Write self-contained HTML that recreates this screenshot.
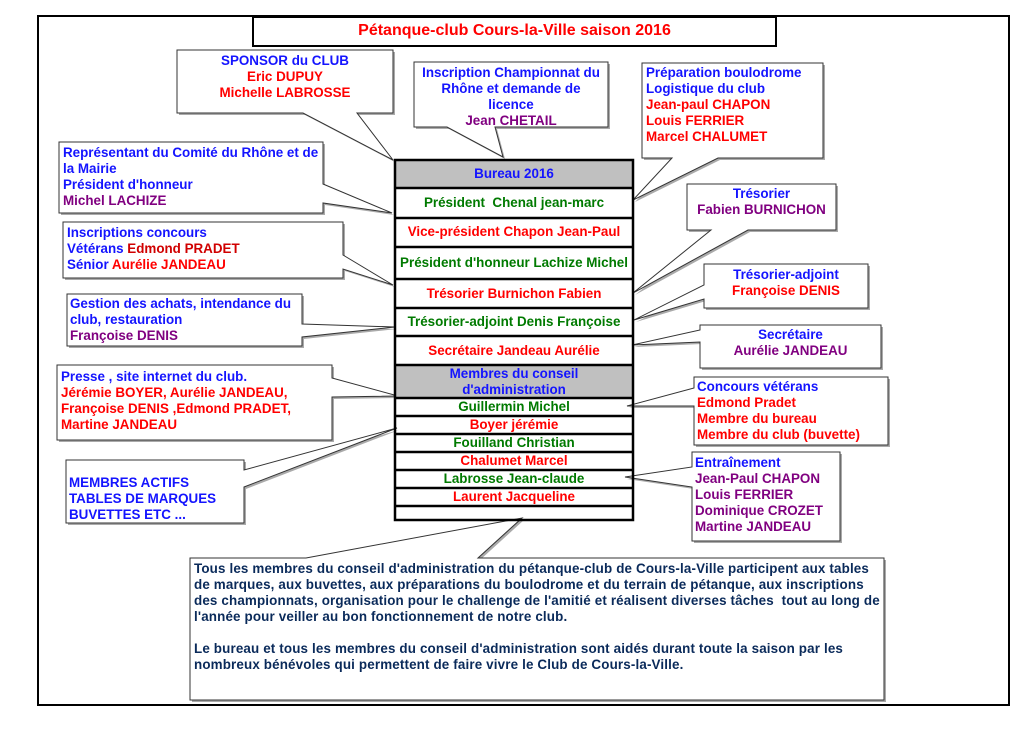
<!DOCTYPE html>
<html><head><meta charset="utf-8"><style>
body{margin:0;width:1034px;height:729px;background:#fff;position:relative;overflow:hidden;font-family:"Liberation Sans",Arial,sans-serif;font-weight:bold;font-size:13.4px}
.t{position:absolute;line-height:16px;white-space:nowrap}
.c{text-align:center}
.b{color:#1414ff}.r{color:#ff0000}.p{color:#800080}.g{color:#007a00}.n{color:#0a2a5a}
.row{position:absolute;left:395px;width:238px;text-align:center;white-space:nowrap;line-height:16px}
</style></head><body>
<svg width="1034" height="729" style="position:absolute;left:0;top:0">
<rect x="38" y="16" width="971" height="689" fill="none" stroke="#000" stroke-width="2"/>
<rect x="253" y="17" width="523" height="29" fill="#fff" stroke="#000" stroke-width="2"/>
<g transform="translate(2,2)" fill="#aaa">
<path d="M177 50 H393 V113 H357 L393 160 L303 113 H177 Z"/>
<path d="M414 62 H608 V127 H495 L503 157 L447 127 H414 Z"/>
<path d="M642 63 H823 V158 H718 L633 200 L672 158 H642 Z"/>
<path d="M59 142 H323 V184 L392 213 L323 203 V213 H59 Z"/>
<path d="M63 222 H343 V255 L393 285 L343 269 V278 H63 Z"/>
<path d="M67 294 H302 V324 L395 327 L302 337 V346 H67 Z"/>
<path d="M57 365 H332 V378 L398 396 L332 397 V440 H57 Z"/>
<path d="M66 460 H244 V470 L397 428 L244 487 V523 H66 Z"/>
<path d="M687 184 H836 V230 H748 L633 293 L711 230 H687 Z"/>
<path d="M704 264 H868 V308 H704 V299 L634 320 L704 285 Z"/>
<path d="M700 325 H881 V368 H700 V342 L632 345 L700 330 Z"/>
<path d="M694 377 H888 V445 H694 V406 L627 406 L694 388 Z"/>
<path d="M692 452 H840 V541 H692 V487 L625 477 L692 467 Z"/>
<path d="M190 558 H306 L522 518 L478 558 H884 V700 H190 Z"/>
</g>
<g fill="#fff" stroke="#333" stroke-width="1">
<path d="M177 50 H393 V113 H357 L393 160 L303 113 H177 Z"/>
<path d="M414 62 H608 V127 H495 L503 157 L447 127 H414 Z"/>
<path d="M642 63 H823 V158 H718 L633 200 L672 158 H642 Z"/>
<path d="M59 142 H323 V184 L392 213 L323 203 V213 H59 Z"/>
<path d="M63 222 H343 V255 L393 285 L343 269 V278 H63 Z"/>
<path d="M67 294 H302 V324 L395 327 L302 337 V346 H67 Z"/>
<path d="M57 365 H332 V378 L398 396 L332 397 V440 H57 Z"/>
<path d="M66 460 H244 V470 L397 428 L244 487 V523 H66 Z"/>
<path d="M687 184 H836 V230 H748 L633 293 L711 230 H687 Z"/>
<path d="M704 264 H868 V308 H704 V299 L634 320 L704 285 Z"/>
<path d="M700 325 H881 V368 H700 V342 L632 345 L700 330 Z"/>
<path d="M694 377 H888 V445 H694 V406 L627 406 L694 388 Z"/>
<path d="M692 452 H840 V541 H692 V487 L625 477 L692 467 Z"/>
<path d="M190 558 H306 L522 518 L478 558 H884 V700 H190 Z"/>
</g>
<rect x="395" y="160" width="238" height="28" fill="#c0c0c0"/>
<rect x="395" y="365" width="238" height="33" fill="#c0c0c0"/>
<rect x="395" y="160" width="238" height="360" fill="none" stroke="#000" stroke-width="2.5"/>
<g stroke="#000" stroke-width="2.5">
<line x1="395" x2="633" y1="188" y2="188"/><line x1="395" x2="633" y1="218" y2="218"/>
<line x1="395" x2="633" y1="247" y2="247"/><line x1="395" x2="633" y1="279" y2="279"/>
<line x1="395" x2="633" y1="308" y2="308"/><line x1="395" x2="633" y1="336" y2="336"/>
<line x1="395" x2="633" y1="365" y2="365"/><line x1="395" x2="633" y1="398" y2="398"/>
<line x1="395" x2="633" y1="416" y2="416"/><line x1="395" x2="633" y1="434" y2="434"/>
<line x1="395" x2="633" y1="452" y2="452"/><line x1="395" x2="633" y1="470" y2="470"/>
<line x1="395" x2="633" y1="488" y2="488"/><line x1="395" x2="633" y1="506" y2="506"/>
</g>
</svg>
<div class="t c r" style="left:253px;width:523px;top:23px;font-size:16px">Pétanque-club Cours-la-Ville saison 2016</div>

<div class="t c" style="left:177px;width:216px;top:53px"><span class="b">SPONSOR du CLUB</span><br><span class="r">Eric DUPUY</span><br><span class="r">Michelle LABROSSE</span></div>
<div class="t c" style="left:414px;width:194px;top:65px"><span class="b">Inscription Championnat du<br>Rhône et demande de<br>licence</span><br><span class="p">Jean CHETAIL</span></div>
<div class="t" style="left:646px;top:65px"><span class="b">Préparation boulodrome<br>Logistique du club</span><br><span class="r">Jean-paul CHAPON<br>Louis FERRIER<br>Marcel CHALUMET</span></div>
<div class="t" style="left:63px;top:145px"><span class="b">Représentant du Comité du Rhône et de<br>la Mairie<br>Président d'honneur</span><br><span class="p">Michel LACHIZE</span></div>
<div class="t" style="left:67px;top:225px"><span class="b">Inscriptions concours<br>Vétérans </span><span style="color:#d00000">Edmond PRADET</span><br><span class="b">Sénior </span><span class="r">Aurélie JANDEAU</span></div>
<div class="t" style="left:70px;top:296px"><span class="b">Gestion des achats, intendance du<br>club, restauration</span><br><span class="p">Françoise DENIS</span></div>
<div class="t" style="left:61px;top:369px"><span class="b">Presse , site internet du club.</span><br><span class="r">Jérémie BOYER, Aurélie JANDEAU,<br>Françoise DENIS ,Edmond PRADET,<br>Martine JANDEAU</span></div>
<div class="t b" style="left:69px;top:475px">MEMBRES ACTIFS<br>TABLES DE MARQUES<br>BUVETTES ETC ...</div>
<div class="t c" style="left:687px;width:149px;top:186px"><span class="b">Trésorier</span><br><span class="p">Fabien BURNICHON</span></div>
<div class="t c" style="left:704px;width:164px;top:267px"><span class="b">Trésorier-adjoint</span><br><span class="r">Françoise DENIS</span></div>
<div class="t c" style="left:700px;width:181px;top:327px"><span class="b">Secrétaire</span><br><span class="p">Aurélie JANDEAU</span></div>
<div class="t" style="left:697px;top:379px"><span class="b">Concours vétérans</span><br><span class="r">Edmond Pradet<br>Membre du bureau<br>Membre du club (buvette)</span></div>
<div class="t" style="left:695px;top:455px"><span class="b">Entraînement</span><br><span class="p">Jean-Paul CHAPON<br>Louis FERRIER<br>Dominique CROZET<br>Martine JANDEAU</span></div>
<div class="t n" style="left:194px;top:561px;font-size:13.4px;letter-spacing:0.15px">Tous les membres du conseil d'administration du pétanque-club de Cours-la-Ville participent aux tables<br>de marques, aux buvettes, aux préparations du boulodrome et du terrain de pétanque, aux inscriptions<br>des championnats, organisation pour le challenge de l'amitié et réalisent diverses tâches&nbsp; tout au long de<br>l'année pour veiller au bon fonctionnement de notre club.<br><br>Le bureau et tous les membres du conseil d'administration sont aidés durant toute la saison par les<br>nombreux bénévoles qui permettent de faire vivre le Club de Cours-la-Ville.</div>

<div class="row b" style="top:166px">Bureau 2016</div>
<div class="row g" style="top:195px">Président&nbsp; Chenal jean-marc</div>
<div class="row r" style="top:224px">Vice-président Chapon Jean-Paul</div>
<div class="row g" style="top:255px">Président d'honneur Lachize Michel</div>
<div class="row r" style="top:286px">Trésorier Burnichon Fabien</div>
<div class="row g" style="top:314px">Trésorier-adjoint Denis Françoise</div>
<div class="row r" style="top:343px">Secrétaire Jandeau Aurélie</div>
<div class="row b" style="top:366px">Membres du conseil<br>d'administration</div>
<div class="row g" style="top:399px">Guillermin Michel</div>
<div class="row r" style="top:417px">Boyer jérémie</div>
<div class="row g" style="top:435px">Fouilland Christian</div>
<div class="row r" style="top:453px">Chalumet Marcel</div>
<div class="row g" style="top:471px">Labrosse Jean-claude</div>
<div class="row r" style="top:489px">Laurent Jacqueline</div>
</body></html>
